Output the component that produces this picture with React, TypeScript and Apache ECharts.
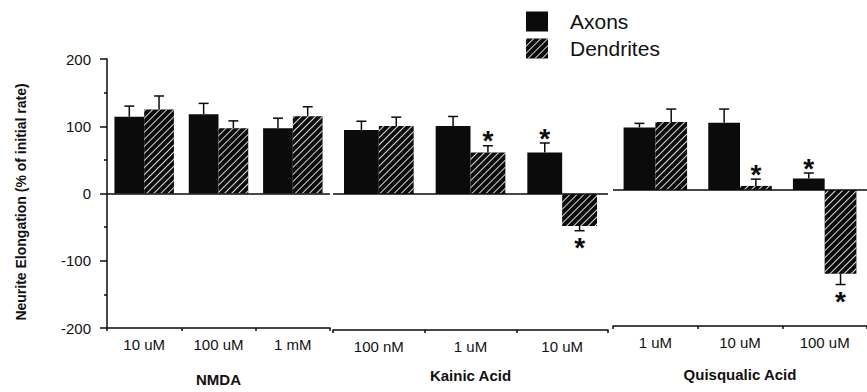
import React, { useEffect, useRef } from "react";
import * as echarts from "echarts";

const groupNames = ["NMDA", "Kainic Acid", "Quisqualic Acid"];
const categoriesNMDA = ["10 uM", "100 uM", "1 mM"];
const categoriesKainic = ["100 nM", "1 uM", "10 uM"];
const categoriesQuis = ["1 uM", "10 uM", "100 uM"];
const yAxisTitle = "Neurite Elongation (% of initial rate)";

const axonsNMDA = [114, 118, 97];
const axonsNMDAErr = [16, 16, 15];
const dendritesNMDA = [125, 97, 115];
const dendritesNMDAErr = [20, 11, 14];

const axonsKainic = [94, 100, 61];
const axonsKainicErr = [13, 14, 14];
const dendritesKainic = [100, 61, -47];
const dendritesKainicErr = [13, 10, 7];

const axonsQuis = [92, 99, 17];
const axonsQuisErr = [6, 20, 8];
const dendritesQuis = [100, 6, -123];
const dendritesQuisErr = [19, 10, 16];

// significance markers (1 = asterisk)
const axonsNMDASig = [0, 0, 0];
const dendritesNMDASig = [0, 0, 0];
const axonsKainicSig = [0, 0, 1];
const dendritesKainicSig = [0, 1, 1];
const axonsQuisSig = [0, 0, 1];
const dendritesQuisSig = [0, 1, 1];

const yTicks = { min: -200, max: 200, interval: 100 };

const BLACK = "#0b0b0b";
const FONT = "Liberation Sans, Arial, Helvetica, sans-serif";

const hatch = {
  color: "rgba(255,255,255,0.85)",
  symbol: "rect",
  symbolSize: 1,
  dashArrayX: [1, 0],
  dashArrayY: [1, 4],
  rotation: -Math.PI / 4,
};

export default function App() {
  const ref = useRef<HTMLDivElement>(null);
  useEffect(() => {
    if (!ref.current) return;
    document.body.style.margin = "0";
    const chart = echarts.init(ref.current, null, { renderer: "svg" });

    const panels = [
      {
        cats: categoriesNMDA,
        a: axonsNMDA, ae: axonsNMDAErr, as: axonsNMDASig,
        d: dendritesNMDA, de: dendritesNMDAErr, ds: dendritesNMDASig,
        grid: { left: 107, width: 223, top: 59, height: 272 },
        gap: 0.2, nameGap: 44,
      },
      {
        cats: categoriesKainic,
        a: axonsKainic, ae: axonsKainicErr, as: axonsKainicSig,
        d: dendritesKainic, de: dendritesKainicErr, ds: dendritesKainicSig,
        grid: { left: 333, width: 275, top: 58, height: 272 },
        gap: 0.24, nameGap: 38,
      },
      {
        cats: categoriesQuis,
        a: axonsQuis, ae: axonsQuisErr, as: axonsQuisSig,
        d: dendritesQuis, de: dendritesQuisErr, ds: dendritesQuisSig,
        grid: { left: 613, width: 265, top: 54, height: 272 },
        gap: 0.25, nameGap: 41,
      },
    ];

    const grids: any[] = [];
    const xAxes: any[] = [];
    const yAxes: any[] = [];
    const series: any[] = [];

    panels.forEach((p, i) => {
      grids.push({ ...p.grid, containLabel: false });
      xAxes.push({
        type: "category",
        gridIndex: i,
        data: p.cats,
        position: "bottom",
        axisLine: { onZero: false, lineStyle: { color: BLACK, width: 1.5 } },
        axisTick: { show: true, length: 3, lineStyle: { color: BLACK, width: 1.5 } },
        axisLabel: { color: "#111", fontSize: 15, fontFamily: FONT, margin: 9 },
        name: groupNames[i],
        nameLocation: "middle",
        nameGap: p.nameGap,
        nameTextStyle: { color: "#111", fontSize: 15, fontWeight: "bold", fontFamily: FONT },
      });
      yAxes.push({
        type: "value",
        gridIndex: i,
        min: yTicks.min,
        max: yTicks.max,
        interval: yTicks.interval,
        show: i === 0,
        axisLine: { show: true, lineStyle: { color: BLACK, width: 1.5 } },
        axisTick: { show: true, length: 7, lineStyle: { color: BLACK, width: 1.5 } },
        minorTick: { show: true, splitNumber: 2, length: 3, lineStyle: { color: BLACK, width: 1.5 } },
        splitLine: { show: false },
        axisLabel: { color: "#111", fontSize: 15, fontFamily: FONT, margin: 16 },
      });

      const gap = p.gap;
      series.push({
        type: "bar",
        name: "Axons",
        xAxisIndex: i,
        yAxisIndex: i,
        data: p.a,
        barGap: "0%",
        barCategoryGap: gap * 100 + "%",
        itemStyle: { color: BLACK },
        markLine: {
          silent: true,
          symbol: "none",
          label: { show: false },
          lineStyle: { color: BLACK, width: 1.5, type: "solid" },
          data: [{ yAxis: 0 }],
        },
      });
      series.push({
        type: "bar",
        name: "Dendrites",
        xAxisIndex: i,
        yAxisIndex: i,
        data: p.d,
        barGap: "0%",
        barCategoryGap: gap * 100 + "%",
        itemStyle: { color: BLACK, decal: hatch },
      });

      const errData: any[] = [];
      p.a.forEach((v, k) => errData.push([k, v, p.ae[k], p.as[k], -1]));
      p.d.forEach((v, k) => errData.push([k, v, p.de[k], p.ds[k], 1]));
      series.push({
        type: "custom",
        xAxisIndex: i,
        yAxisIndex: i,
        silent: true,
        z: 5,
        data: errData,
        encode: { x: 0, y: 1 },
        renderItem: (params: any, api: any) => {
          const idx = api.value(0);
          const v = api.value(1);
          const e = api.value(2);
          const s = api.value(3);
          const side = api.value(4);
          const band = api.size([1, 0])[0];
          const c = api.coord([idx, v]);
          const x = c[0] + (side * band * (1 - gap)) / 4;
          const dir = v >= 0 ? 1 : -1;
          const top = api.coord([idx, v + dir * e])[1];
          const children: any[] = [
            { type: "line", shape: { x1: x, y1: c[1], x2: x, y2: top }, style: { stroke: BLACK, lineWidth: 1.5 } },
            { type: "line", shape: { x1: x - 5, y1: top, x2: x + 5, y2: top }, style: { stroke: BLACK, lineWidth: 1.5 } },
          ];
          if (s) {
            children.push({
              type: "text",
              style: {
                text: "*",
                x: x,
                y: top - dir * 11 + 6,
                align: "center",
                verticalAlign: "middle",
                fontSize: 28,
                fontWeight: "bold",
                fontFamily: FONT,
                fill: BLACK,
              },
            });
          }
          return { type: "group", children };
        },
      });
    });

    chart.setOption({
      animation: false,
      backgroundColor: "#fff",
      legend: {
        data: ["Axons", "Dendrites"],
        orient: "vertical",
        left: 526,
        top: 11,
        padding: 0,
        itemWidth: 22,
        itemHeight: 20,
        itemGap: 6,
        icon: "rect",
        selectedMode: false,
        textStyle: { color: "#111", fontSize: 21, fontFamily: FONT, padding: [0, 0, 0, 17] },
      },
      graphic: [
        {
          type: "text",
          x: 21,
          y: 202,
          rotation: Math.PI / 2,
          style: {
            text: yAxisTitle,
            align: "center",
            verticalAlign: "middle",
            fontSize: 14,
            fontWeight: "bold",
            fontFamily: FONT,
            fill: "#111",
          },
        },
      ],
      grid: grids,
      xAxis: xAxes,
      yAxis: yAxes,
      series,
    });
    return () => chart.dispose();
  }, []);
  return <div ref={ref} style={{ width: 867, height: 392 }} />;
}
